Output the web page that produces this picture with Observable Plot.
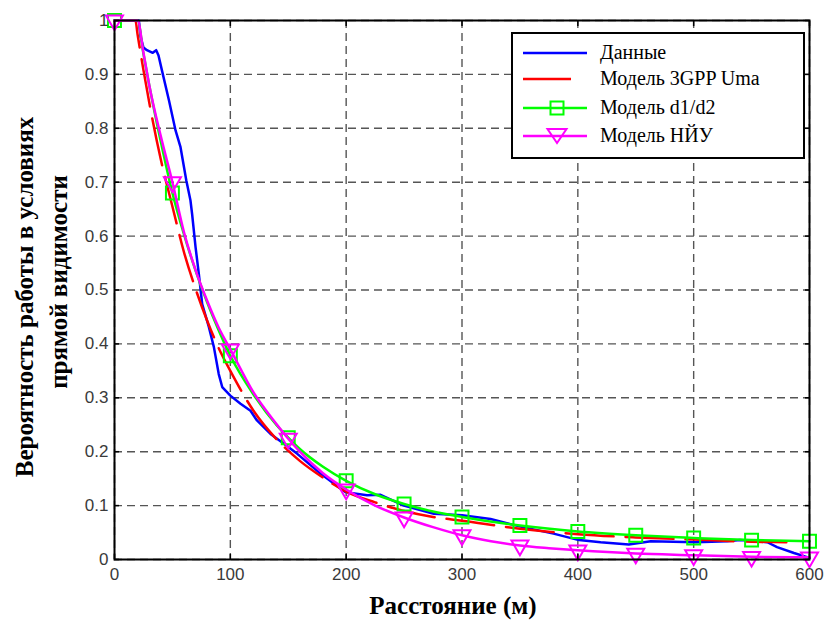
<!DOCTYPE html>
<html>
<head>
<meta charset="utf-8">
<script src="https://cdn.jsdelivr.net/npm/d3@7"></script>
<script src="https://cdn.jsdelivr.net/npm/@observablehq/plot@0.6"></script>
<style>
  body { margin: 0; background: #fff; }
  #wrap { position: relative; width: 827px; height: 620px; }
  #legend {
    position: absolute; left: 511px; top: 32px; width: 290px; height: 123px;
    border: 2px solid #000; background: #fff;
    font-family: "Liberation Serif", serif; font-size: 20px; color: #000;
  }
  .row { position: absolute; left: 0; height: 24px; width: 100%; }
  .row svg { position: absolute; left: 8px; top: 0; }
  .row span { position: absolute; left: 87px; top: 0px; line-height: 22px; white-space: nowrap; }
</style>
</head>
<body>
<div id="wrap"></div>
<script>
// Measured LOS probability vs distance, and three model curves
const distData = [0, 21, 22.5, 25, 28, 33, 36, 38, 41, 47, 52.7, 57, 62, 65.6, 67, 70, 72.8, 75.7, 81.5, 85.8, 90, 93, 100, 108.8, 117.4, 123, 134.7, 146, 157.8, 178, 199.5, 218, 229.7, 249.8, 275.7, 300, 324.7, 350.6, 379, 401, 419.7, 444, 463, 501.7, 529, 540, 563.6, 572, 586.6, 600];
const probData = [1, 1, 0.97, 0.95, 0.945, 0.94, 0.945, 0.935, 0.907, 0.852, 0.796, 0.765, 0.703, 0.666, 0.641, 0.579, 0.530, 0.474, 0.431, 0.394, 0.344, 0.32, 0.304, 0.289, 0.276, 0.258, 0.233, 0.215, 0.196, 0.159, 0.125, 0.119, 0.12, 0.1, 0.085, 0.082, 0.075, 0.061, 0.048, 0.036, 0.032, 0.028, 0.034, 0.032, 0.034, 0.036, 0.032, 0.023, 0.012, 0.003];

const distUma = [0, 18, 20, 25, 30, 40, 50, 60, 70, 80, 90, 100, 120, 140, 160, 180, 200, 225, 250, 275, 300, 350, 400, 450, 500, 550, 580];
const probUma = [1, 1, 0.973, 0.908, 0.848, 0.742, 0.655, 0.570, 0.502, 0.443, 0.392, 0.350, 0.276, 0.223, 0.183, 0.152, 0.126, 0.106, 0.090, 0.079, 0.072, 0.057, 0.047, 0.041, 0.037, 0.033, 0.032];

const distD1D2 = [0, 20, 25, 30, 40, 50, 60, 70, 80, 90, 100, 120, 140, 150, 160, 180, 200, 225, 250, 275, 300, 350, 400, 450, 500, 550, 600];
const probD1D2 = [1, 1, 0.938, 0.88, 0.775, 0.68, 0.603, 0.536, 0.477, 0.425, 0.378, 0.306, 0.249, 0.226, 0.205, 0.172, 0.146, 0.121, 0.103, 0.089, 0.079, 0.063, 0.052, 0.045, 0.040, 0.036, 0.034];

const distNiu = [0, 20, 25, 30, 40, 50, 60, 70, 80, 90, 100, 120, 140, 150, 160, 180, 200, 225, 250, 275, 300, 325, 350, 375, 400, 450, 500, 550, 600];
const probNiu = [1, 1, 0.94, 0.88, 0.785, 0.70, 0.607, 0.537, 0.48, 0.43, 0.39, 0.31, 0.251, 0.224, 0.20, 0.16, 0.13, 0.10, 0.078, 0.06, 0.045, 0.034, 0.026, 0.021, 0.017, 0.011, 0.008, 0.005, 0.004];

const xTicks = [0, 100, 200, 300, 400, 500, 600];
const yTicks = [0, 0.1, 0.2, 0.3, 0.4, 0.5, 0.6, 0.7, 0.8, 0.9, 1];
const yTickLabels = ["0", "0.1", "0.2", "0.3", "0.4", "0.5", "0.6", "0.7", "0.8", "0.9", "1"];

const seriesNames = ["Данные", "Модель 3GPP Uma", "Модель d1/d2", "Модель НЙУ"];
const seriesColors = ["#0000ff", "#ff0000", "#00ff00", "#ff00ff"];

const xTitle = "Расстояние (м)";
const yTitle1 = "Вероятность работы в условиях";
const yTitle2 = "прямой видимости";

// markers every 50 m on the two marked model curves
const every50 = (xs) => xs.map((x, i) => i).filter(i => xs[i] % 50 === 0);
const d1d2Idx = every50(distD1D2);
const niuIdx = every50(distNiu);

const gridStyle = {stroke: "#555", strokeOpacity: 1, strokeWidth: 1.4, strokeDasharray: "8,5"};
const titleStyle = {fontFamily: "Liberation Serif", fontWeight: "bold", fontSize: 25, fill: "#000", textAnchor: "middle", lineAnchor: "middle", text: d => d};

const chart = Plot.plot({
  width: 827,
  height: 620,
  marginLeft: 114,
  marginRight: 18,
  marginTop: 20,
  marginBottom: 61,
  x: {domain: [0, 600]},
  y: {domain: [0, 1]},
  style: {fontFamily: "Liberation Sans, Arial, sans-serif", fontSize: "17px", background: "white", color: "#3a3a3a"},
  marks: [
    Plot.gridX(xTicks, gridStyle),
    Plot.gridY(yTicks, gridStyle),
    Plot.line(probData, {x: distData, y: probData, stroke: seriesColors[0], strokeWidth: 2.5}),
    Plot.line(probUma, {x: distUma, y: probUma, stroke: seriesColors[1], strokeWidth: 2.5, strokeDasharray: "48,12", curve: "monotone-x"}),
    Plot.line(probD1D2, {x: distD1D2, y: probD1D2, stroke: seriesColors[2], strokeWidth: 2.5, curve: "monotone-x"}),
    Plot.dot(d1d2Idx, {x: i => distD1D2[i], y: i => probD1D2[i], symbol: "square", r: 7.3, stroke: seriesColors[2], strokeWidth: 2, fill: "none"}),
    Plot.line(probNiu, {x: distNiu, y: probNiu, stroke: seriesColors[3], strokeWidth: 2.5, curve: "monotone-x"}),
    Plot.dot(niuIdx, {x: i => distNiu[i], y: i => probNiu[i], symbol: "triangle", rotate: 180, r: 6.3, stroke: seriesColors[3], strokeWidth: 2, fill: "none"}),
    Plot.frame({stroke: "#000", strokeWidth: 2}),
    Plot.axisX(xTicks, {anchor: "bottom", tickSize: -5, tickPadding: 13, stroke: "#000", strokeWidth: 1.5, fill: "#3a3a3a", label: null}),
    Plot.axisX(xTicks, {anchor: "top", tickSize: -5, stroke: "#000", strokeWidth: 1.5, tickFormat: () => "", label: null}),
    Plot.axisY(yTicks, {anchor: "left", tickSize: -5, tickPadding: 11, stroke: "#000", strokeWidth: 1.5, fill: "#3a3a3a", tickFormat: (d, i) => yTickLabels[i], label: null}),
    Plot.axisY(yTicks, {anchor: "right", tickSize: -5, stroke: "#000", strokeWidth: 1.5, tickFormat: () => "", label: null}),
    Plot.text([xTitle], {...titleStyle, frameAnchor: "bottom", dx: -9, dy: 46}),
    Plot.text([yTitle1], {...titleStyle, frameAnchor: "left", dx: -90, dy: 7, rotate: -90}),
    Plot.text([yTitle2], {...titleStyle, frameAnchor: "left", dx: -56, dy: -8, rotate: -90})
  ]
});

const wrap = document.getElementById("wrap");
wrap.appendChild(chart);

// legend box inside the plot area
const legend = document.createElement("div");
legend.id = "legend";
const rowTops = [7, 33, 62, 90];
seriesNames.forEach((name, k) => {
  const row = document.createElement("div");
  row.className = "row";
  row.style.top = rowTops[k] + "px";
  const c = seriesColors[k];
  let sample = `<line x1="2" y1="12" x2="66" y2="12" stroke="${c}" stroke-width="2.5"${k === 1 ? ' stroke-dasharray="48,16"' : ""}/>`;
  if (k === 2) sample += `<rect x="29.5" y="5.5" width="13" height="13" fill="none" stroke="${c}" stroke-width="2"/>`;
  if (k === 3) sample += `<path d="M26.5,5 L45.5,5 L36,19 Z" fill="none" stroke="${c}" stroke-width="2"/>`;
  row.innerHTML = `<svg width="70" height="24">${sample}</svg><span>${name}</span>`;
  legend.appendChild(row);
});
wrap.appendChild(legend);
</script>
</body>
</html>
